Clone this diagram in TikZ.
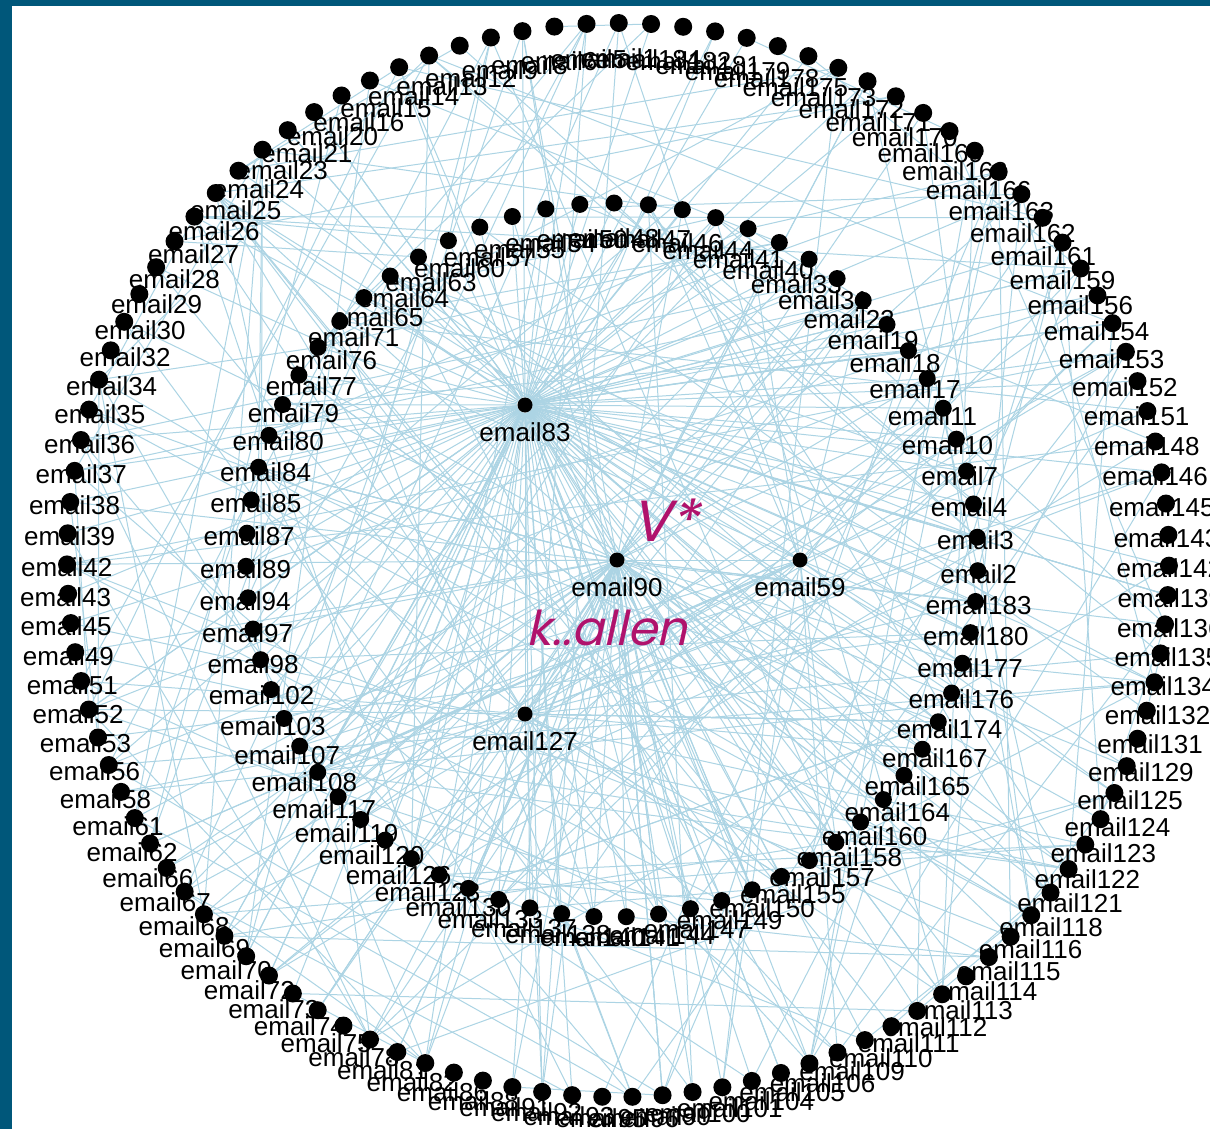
\documentclass[tikz,border=0pt]{standalone}
\usepackage{fontspec}
\setmainfont{Liberation Sans}
\newfontfamily\accentfont[FakeSlant=0.22]{Poppins}
\usetikzlibrary{calc,positioning}
\definecolor{framecol}{RGB}{0,87,122}
\definecolor{edgecol}{RGB}{172,212,228}
\definecolor{accentcol}{RGB}{176,18,108}
\pgfdeclarelayer{bglayer}
\pgfdeclarelayer{edgelayer}
\pgfdeclarelayer{labellayer}
\pgfsetlayers{bglayer,edgelayer,labellayer,main}
\tikzset{
  ringdot/.style={circle,fill=black,inner sep=0pt,minimum size=9pt},
  innerdot/.style={circle,fill=black,inner sep=0pt,minimum size=8.5pt},
  hubdot/.style={circle,fill=black,inner sep=0pt,minimum size=7.5pt},
  maillabel/.style={font=\fontsize{13}{13}\selectfont,inner sep=0pt,text=black},
  mailedge/.style={edgecol,line width=0.5pt},
  accent/.style={accentcol,font=\accentfont\fontsize{24}{24}\selectfont,inner sep=0pt}
}
\def\outerids{1,5,6,8,9,12,13,14,15,16,20,21,23,24,25,26,27,28,29,30,32,34,35,36,37,38,39,42,43,45,49,51,52,53,56,58,61,62,66,67,68,69,70,72,73,74,75,78,81,82,86,88,91,92,93,95,96,99,100,101,104,105,106,109,110,111,112,113,114,115,116,118,121,122,123,124,125,129,131,132,134,135,136,139,142,143,145,146,148,151,152,153,154,156,159,161,162,163,166,168,169,170,171,172,173,175,178,179,181,182,184}
\def\innerids{2,3,4,7,10,11,17,18,19,22,31,33,40,41,44,46,47,48,50,54,55,57,60,63,64,65,71,76,77,79,80,84,85,87,89,94,97,98,102,103,107,108,117,119,120,126,128,130,133,137,138,140,141,144,147,149,150,155,157,158,160,164,165,167,174,176,177,180,183}

\begin{document}
\begin{tikzpicture}[x=0.5pt,y=-0.5pt]
\useasboundingbox (0,0) rectangle (1210,1129);
\begin{pgfonlayer}{bglayer}
\fill[framecol] (0,0) rectangle (1210,1129);
\fill[white] (12,6) rectangle (1210,1129);
\end{pgfonlayer}
%%%%%%%%%%%%%%%%%%%%%%%%%%%%
%%%%%%%%% outer ring %%%%%%%
%%%%%%%%%%%%%%%%%%%%%%%%%%%%
\foreach \id [count=\n from 0] in \outerids {
  \pgfmathsetmacro\ang{\n<26.85 ? 89.92+3.355*\n : (\n<84.2 ? 180+3.139*(\n-26.85) : 360+3.355*(\n-84.2))}
  \node[ringdot,alias=o\n] (e\id) at ({618+551*cos(\ang)},{560-537*sin(\ang)}) {};
  \begin{pgfonlayer}{labellayer}
  \node[maillabel] (l\id) at ($(e\id)+({-20*sin(2*\ang)},{3+(25+7*sin(\ang))*sin(\ang)^2})$) {email\id};
  \end{pgfonlayer}
}
%%%%%%%%%%%%%%%%%%%%%%%%%%%%
%%%%%%%%% inner ring %%%%%%%
%%%%%%%%%%%%%%%%%%%%%%%%%%%%
\foreach \id [count=\n from 0] in \innerids {
  \pgfmathsetmacro\ang{\n<33.8 ? 5.376*(\n-0.32) : 180+5.068*(\n-33.8)}
  \node[innerdot,alias=i\n] (e\id) at ({612+366*cos(\ang)},{560-357*sin(\ang)}) {};
  \begin{pgfonlayer}{labellayer}
  \node[maillabel] (l\id) at ($(e\id)+({-14*sin(2*\ang)},{3+(25+7*sin(\ang))*sin(\ang)^2})$) {email\id};
  \end{pgfonlayer}
}
%%%%%%%%%%%%%%%%%%%%%%%%%%%%
%%%%%%%%% hubs %%%%%%%%%%%%%
%%%%%%%%%%%%%%%%%%%%%%%%%%%%
\node[hubdot] (e83) at (525,405) {};
\node[hubdot] (e90) at (617,560) {};
\node[hubdot] (e59) at (800,560) {};
\node[hubdot] (e127) at (525,714) {};
\node[maillabel, below=4.5pt of e83] (l83) {email83};
\node[maillabel, below=4.5pt of e90] (l90) {email90};
\node[maillabel, below=4.5pt of e59] (l59) {email59};
\node[maillabel, below=4.5pt of e127] (l127) {email127};
\node[accent, font=\accentfont\fontsize{29}{29}\selectfont] (vstar) at (665,520) {V*};
\node[accent] (kallen) at (607,628) {k..allen};
%%%%%%%%%%%%%%%%%%%%%%%%%%%%
%%%%%%%%% edges %%%%%%%%%%%%
%%%%%%%%%%%%%%%%%%%%%%%%%%%%
\pgfmathsetseed{83}
\begin{pgfonlayer}{edgelayer}
\foreach \id in \innerids \draw[mailedge] (e83) -- (e\id);
\draw[mailedge] (e83) -- (e90);
\draw[mailedge] (e90) -- (e59);
\draw[mailedge] (e83) -- (e127);
\draw[mailedge] (e127) -- (e90);
\foreach \k in {1,...,50} {
  \pgfmathtruncatemacro\a{random(0,110)}
  \draw[mailedge] (e83) -- (o\a);
}
\foreach \k in {1,...,35} {
  \pgfmathtruncatemacro\a{random(0,110)}
  \pgfmathtruncatemacro\b{random(0,68)}
  \draw[mailedge] (e90) -- (o\a);
  \draw[mailedge] (e90) -- (i\b);
}
\foreach \k in {1,...,15} {
  \pgfmathtruncatemacro\a{random(0,110)}
  \pgfmathtruncatemacro\b{random(0,68)}
  \draw[mailedge] (e127) -- (o\a);
  \draw[mailedge] (e127) -- (i\b);
}
\foreach \k in {1,...,10} {
  \pgfmathtruncatemacro\a{random(0,110)}
  \pgfmathtruncatemacro\b{random(0,68)}
  \draw[mailedge] (e59) -- (o\a);
  \draw[mailedge] (e59) -- (i\b);
}
\foreach \k in {1,...,90} {
  \pgfmathtruncatemacro\a{random(0,110)}
  \pgfmathtruncatemacro\b{random(0,68)}
  \pgfmathtruncatemacro\c{random(0,110)}
  \draw[mailedge] (o\a) -- (i\b);
  \draw[mailedge] (o\a) -- (o\c);
}
\foreach \k in {1,...,30} {
  \pgfmathtruncatemacro\a{random(0,68)}
  \pgfmathtruncatemacro\b{random(0,68)}
  \draw[mailedge] (i\a) -- (i\b);
}
\end{pgfonlayer}
\end{tikzpicture}
\end{document}
